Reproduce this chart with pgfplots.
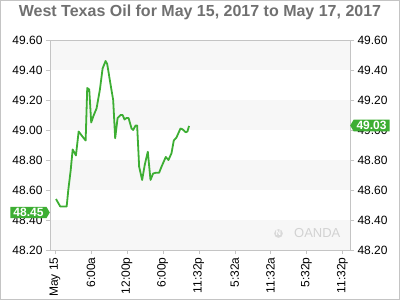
\documentclass[border=0pt]{standalone}
\usepackage{fontspec}
\setmainfont{Liberation Sans}
\usepackage{pgfplots}
\pgfplotsset{compat=1.18}
\usetikzlibrary{shapes.symbols}
\definecolor{oilgreen}{HTML}{3DAE33}
\definecolor{band}{HTML}{F7F7F7}
\definecolor{axgray}{HTML}{C4C4C4}
\definecolor{titlegray}{HTML}{707070}
\pgfplotstableread{
x y
0.028 48.54
0.147 48.49
0.325 48.49
0.37 48.60
0.436 48.73
0.492 48.87
0.583 48.83
0.658 48.99
0.769 48.955
0.853 48.93
0.897 49.28
0.953 49.27
1.008 49.05
1.064 49.09
1.158 49.145
1.25 49.27
1.325 49.41
1.408 49.46
1.453 49.44
1.528 49.33
1.619 49.20
1.675 48.945
1.742 49.08
1.825 49.10
1.881 49.10
1.936 49.07
1.992 49.08
2.047 49.08
2.131 49.01
2.175 49.00
2.242 49.03
2.286 49.03
2.342 48.755
2.425 48.667
2.5 48.77
2.583 48.855
2.658 48.667
2.731 48.71
2.806 48.715
2.897 48.715
2.964 48.755
3.083 48.82
3.158 48.80
3.242 48.845
3.306 48.93
3.381 48.95
3.492 49.01
3.547 49.005
3.639 48.985
3.686 48.99
3.731 49.027
}\oildata
\begin{document}
\begin{tikzpicture}
\useasboundingbox (0,0) rectangle (400bp,300bp);
\draw[axgray] (0.5bp,0.5bp) rectangle (399.5bp,299.5bp);
\node[anchor=base, font=\fontsize{16bp}{18bp}\selectfont\bfseries, text=titlegray] at (200bp,283.5bp) {West Texas Oil for May 15, 2017 to May 17, 2017};
\pgfplotsset{
  common/.style={
    at={(50bp,50bp)}, anchor=south west, scale only axis,
    width=300bp, height=210bp,
    xmin=-0.139, xmax=8.21, ymin=48.2, ymax=49.6,
    ytick={48.2,48.4,48.6,48.8,49.0,49.2,49.4,49.6},
    yticklabel style={/pgf/number format/.cd, fixed, fixed zerofill, precision=2, assume math mode=true},
    tick label style={font=\fontsize{12bp}{14bp}\selectfont, text=black},
    tick align=outside, major tick length=4bp,
    axis line style={axgray}, major tick style={axgray},
    clip=false,
  }
}
\begin{axis}[common,
  xtick=\empty,
  yticklabel pos=right,
  axis line style={draw=none}, major tick style={draw=none},
]
\end{axis}
\begin{axis}[common,
  axis on top,
  xtick={0,1,2,3,4,5,6,7,8},
  xticklabels={May 15,6:00a,12:00p,6:00p,11:32p,5:32a,11:32a,5:32p,11:32p},
  xticklabel style={rotate=90, anchor=east},
  xtick pos=bottom,
  ytick pos=both,
  yticklabel pos=left,
]
\fill[band] (axis cs:-0.139,49.4) rectangle (axis cs:8.21,49.6);
\fill[band] (axis cs:-0.139,49.0) rectangle (axis cs:8.21,49.2);
\fill[band] (axis cs:-0.139,48.6) rectangle (axis cs:8.21,48.8);
\fill[band] (axis cs:-0.139,48.2) rectangle (axis cs:8.21,48.4);
\node[text=gray!35, font=\fontsize{13bp}{14bp}\selectfont, inner sep=0pt] at (axis cs:7.3,48.31) {OANDA};
\node[circle, fill=gray!30, text=white, inner sep=0.6bp, font=\fontsize{7bp}{8bp}\selectfont\bfseries] at (axis cs:6.22,48.31) {N};
\addplot[oilgreen, line width=1.8bp, line join=round] table[x=x,y=y] {\oildata};
\coordinate (lefttag) at (axis cs:-0.139,48.45);
\coordinate (righttag) at (axis cs:8.21,49.03);
\end{axis}
\node[signal, signal to=east, signal pointer angle=120, fill=oilgreen, text=white, font=\fontsize{12bp}{14bp}\selectfont\bfseries, inner xsep=3bp, inner ysep=1.5bp, anchor=east] at (lefttag) {48.45};
\node[signal, signal to=west, signal pointer angle=120, fill=oilgreen, text=white, font=\fontsize{12bp}{14bp}\selectfont\bfseries, inner xsep=3bp, inner ysep=1.5bp, anchor=west] at (righttag) {49.03};
\end{tikzpicture}
\end{document}
